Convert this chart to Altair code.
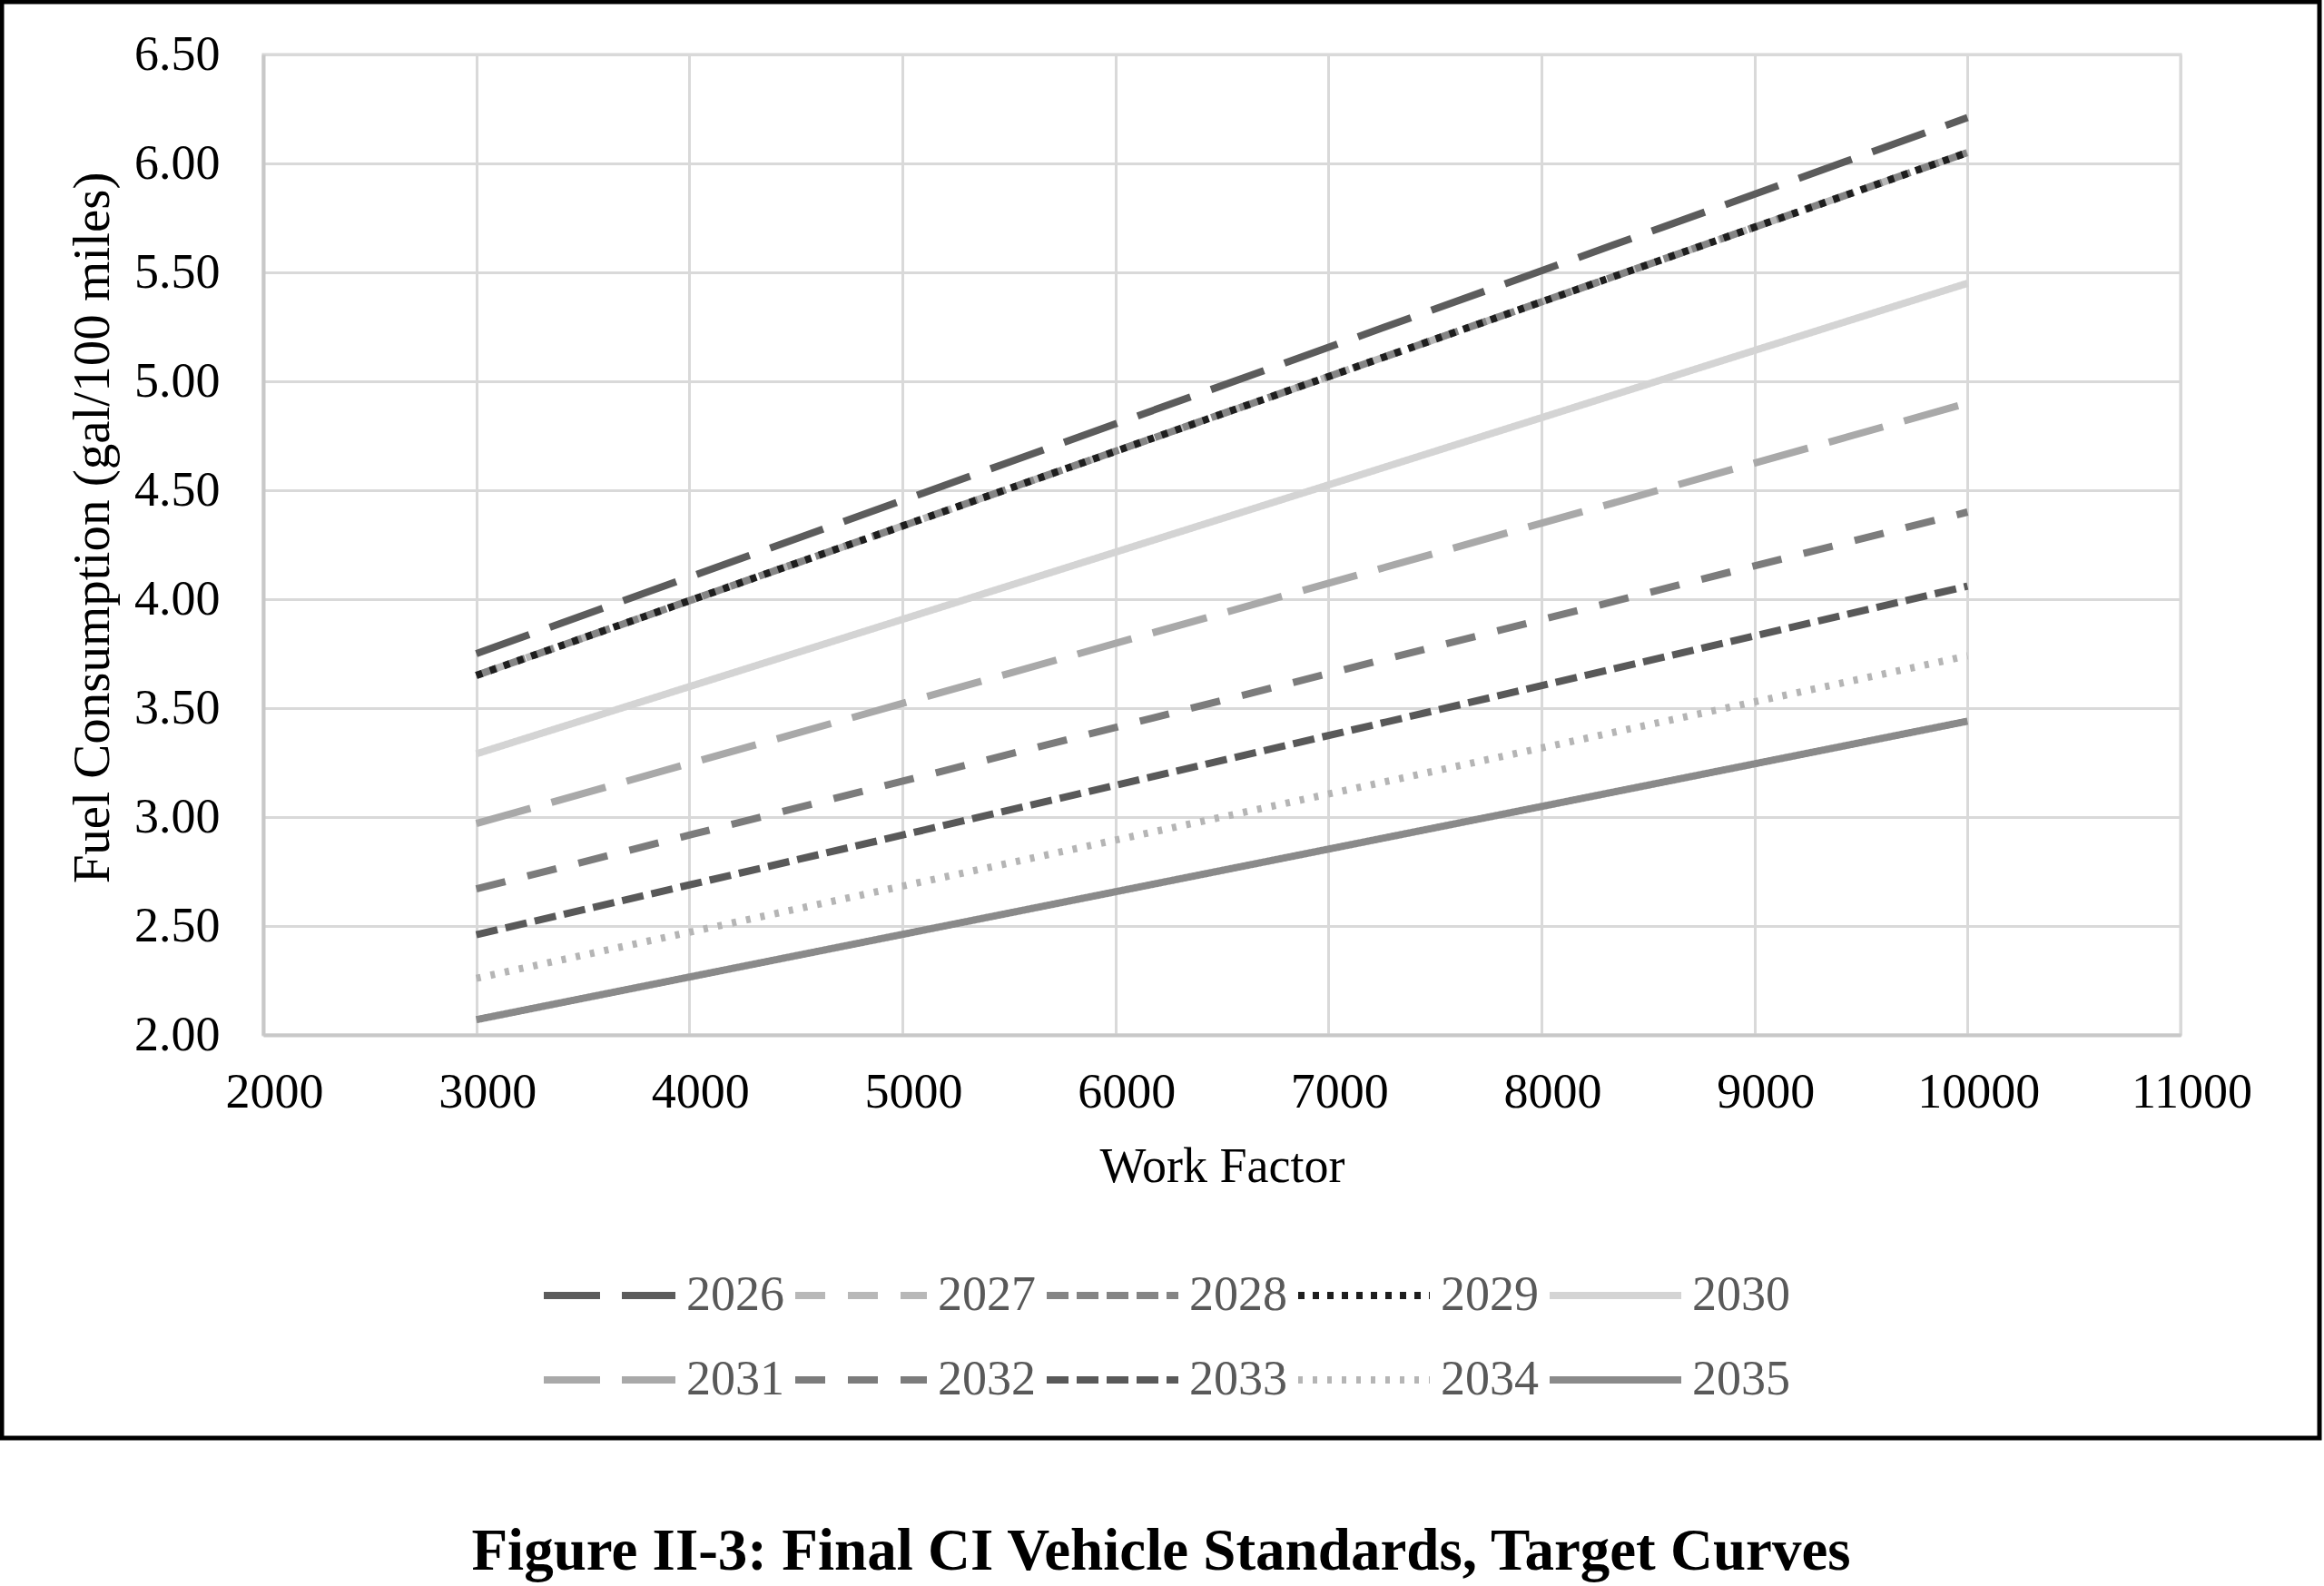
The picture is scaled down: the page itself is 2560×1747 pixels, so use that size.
import altair as alt
import pandas as pd

# ---- data ----
years = ["2026", "2027", "2028", "2029", "2030", "2031", "2032", "2033", "2034", "2035"]
work_factor = [3000, 10000]
fc_at_3000 = [3.75, 3.65, 3.65, 3.65, 3.29, 2.97, 2.67, 2.46, 2.26, 2.07]
fc_at_10000 = [6.21, 6.05, 6.05, 6.05, 5.45, 4.90, 4.40, 4.06, 3.74, 3.44]

x_ticks = [2000, 3000, 4000, 5000, 6000, 7000, 8000, 9000, 10000, 11000]
y_ticks = [2.0, 2.5, 3.0, 3.5, 4.0, 4.5, 5.0, 5.5, 6.0, 6.5]

# ---- styles ----
line_colors = ["#5c5c5c", "#b8b8b8", "#858585", "#1e1e1e", "#d4d4d4",
               "#a9a9a9", "#7c7c7c", "#595959", "#b5b5b5", "#8a8a8a"]
line_dashes = [[62, 24], [33, 25], [24, 9], [7, 9], [1, 0],
               [62, 24], [33, 25], [24, 9], [5, 11], [1, 0]]

rows = []
for i, yr in enumerate(years):
    rows.append({"Year": yr, "WF": work_factor[0], "FC": fc_at_3000[i], "k": i})
    rows.append({"Year": yr, "WF": work_factor[1], "FC": fc_at_10000[i], "k": i})
df = pd.DataFrame(rows)

FONT = "Liberation Serif"

legend = alt.Legend(
    title=None,
    orient="none",
    legendX=305,
    legendY=1340,
    direction="horizontal",
    columns=5,
    symbolType="stroke",
    symbolSize=21025,
    symbolStrokeWidth=8,
    clipHeight=54,
    labelFont=FONT,
    labelFontSize=54,
    labelColor="#595959",
    labelOffset=8,
    columnPadding=8,
    rowPadding=39,
)

lines = alt.Chart(df).mark_line(strokeWidth=8, clip=False).encode(
    x=alt.X("WF:Q",
            scale=alt.Scale(domain=[2000, 11000], nice=False, zero=False),
            axis=alt.Axis(values=x_ticks, format="d", title="Work Factor",
                          labelFlush=False, labelOffset=12,
                          labelPadding=36, titlePadding=28)),
    y=alt.Y("FC:Q",
            scale=alt.Scale(domain=[2.0, 6.5], nice=False, zero=False),
            axis=alt.Axis(values=y_ticks, format=".2f",
                          title="Fuel Consumption (gal/100 miles)",
                          titleFontSize=57, titleY=521,
                          labelPadding=48, titlePadding=16)),
    color=alt.Color("Year:N", scale=alt.Scale(domain=years, range=line_colors),
                    sort=years, legend=legend),
    strokeDash=alt.StrokeDash("Year:N", scale=alt.Scale(domain=years, range=line_dashes),
                              sort=years, legend=legend),
    detail="Year:N",
)

border = alt.Chart(pd.DataFrame({"a": [0]})).mark_rect(
    filled=False, stroke="black", strokeWidth=5
).encode(
    x=alt.value(-288), x2=alt.value(2265), y=alt.value(-58), y2=alt.value(1524)
)

chart = alt.layer(border, lines).properties(
    width=2112,
    height=1080,
    padding={"left": 290, "top": 60, "right": 158, "bottom": 607},
    autosize=alt.AutoSizeParams(type="none"),
    background="white",
    title=alt.Title(
        "Figure II-3: Final CI Vehicle Standards, Target Curves",
        orient="bottom", anchor="middle", frame="group", dx=-67, offset=91,
        font=FONT, fontSize=65, fontWeight="bold", color="black",
    ),
).configure_view(
    stroke="#d4d4d4", strokeWidth=3
).configure_axis(
    labelFont=FONT, labelFontSize=54, labelColor="black",
    titleFont=FONT, titleFontSize=54, titleFontWeight="normal", titleColor="black",
    ticks=False, tickSize=0,
    domain=True, domainColor="#c8c8c8", domainWidth=4,
    grid=True, gridColor="#d9d9d9", gridWidth=3,
)

chart.save("out.html", embed_options={"renderer": "svg", "actions": False})
